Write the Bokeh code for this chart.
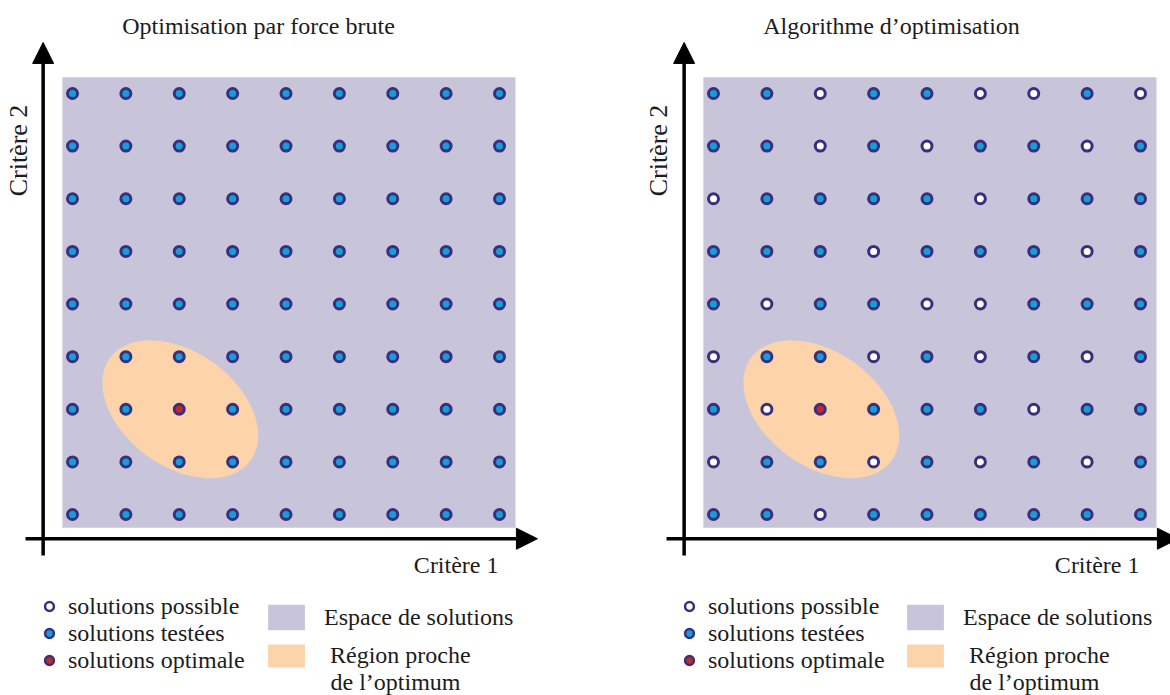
import numpy as np
from bokeh.plotting import figure
from bokeh.models import ColumnDataSource, Label, Arrow, NormalHead, Legend, LegendItem, Range1d
from bokeh.layouts import row
from bokeh.embed import file_html
from bokeh.resources import INLINE

# ---------------- data ----------------
grid_cols = [1, 2, 3, 4, 5, 6, 7, 8, 9]
grid_rows = [9, 8, 7, 6, 5, 4, 3, 2, 1]          # top row first
# P = solution possible (not tested), T = solution testée, O = solution optimale
brute_status = [
    "TTTTTTTTT",
    "TTTTTTTTT",
    "TTTTTTTTT",
    "TTTTTTTTT",
    "TTTTTTTTT",
    "TTTTTTTTT",
    "TTOTTTTTT",
    "TTTTTTTTT",
    "TTTTTTTTT",
]
algo_status = [
    "TTPTTPPTP",
    "TTPTPTTPT",
    "PTTTTPTTT",
    "TTTPTTTPT",
    "TPTTPPTTT",
    "PTTPTPTPT",
    "TPOTTTPTT",
    "PTTPTPTPT",
    "TTPTTTTTT",
]
titles = ["Optimisation par force brute", "Algorithme d\u2019optimisation"]
x_label = "Crit\u00e8re 1"
y_label = "Crit\u00e8re 2"
legend_points = ["solutions possible", "solutions test\u00e9es", "solutions optimale"]
legend_areas = ["Espace de solutions", "R\u00e9gion proche", "de l\u2019optimum"]

# solution space (grid units)
space_x = [0.81, 9.30]
space_y = [0.75, 9.31]
# region near the optimum (ellipse)
region_center = [3.02, 3.0]
region_size = [3.26, 2.17]
region_angle = -0.63
# drawn axes (grid units)
yaxis_x = 0.45
yaxis_span = [0.22, 9.97]
xaxis_y = 0.54
xaxis_span = [0.12, 9.71]

# ---------------- style ----------------
LAV = "#c8c5da"
PEACH = "#fdd4a9"
BLUE = "#12a0d8"
RED = "#c4282b"
RING = "#3b2e7e"
TXT = "#1c1c1c"
FONT = "Liberation Serif"
NAN = float("nan")

W, H = 585, 695
Y_RANGE = (-2.439, 10.767)


def sources(status):
    out = {"P": dict(x=[], y=[]), "T": dict(x=[], y=[]), "O": dict(x=[], y=[])}
    for yv, line in zip(grid_rows, status):
        for xv, s in zip(grid_cols, line):
            out[s]["x"].append(xv)
            out[s]["y"].append(yv)
    return {k: ColumnDataSource(v) for k, v in out.items()}


def panel(status, title, x_range, px):
    p = figure(width=W, height=H, x_range=Range1d(*x_range), y_range=Range1d(*Y_RANGE),
               x_axis_type=None, y_axis_type=None, toolbar_location=None,
               output_backend="svg", min_border=0, outline_line_color=None,
               background_fill_color="white", border_fill_color="white")
    p.grid.visible = False

    r_space = p.quad(left=[space_x[0]], right=[space_x[1]], bottom=[space_y[0]], top=[space_y[1]],
                     fill_color=LAV, line_color=None)
    p.ellipse(x=[region_center[0]], y=[region_center[1]], width=[region_size[0]],
              height=[region_size[1]], angle=[region_angle], fill_color=PEACH, line_color=None)

    src = sources(status)
    kw = dict(size=10, line_color=RING, line_width=3)
    fills = {"P": "white", "T": BLUE, "O": RED}
    for k in ("P", "T", "O"):
        p.scatter("x", "y", source=src[k], fill_color=fills[k], **kw)

    # legend-only proxies (no visible data)
    lk = dict(size=10, line_color=RING, line_width=2.5)
    g_p = p.scatter(x=[NAN], y=[NAN], fill_color="white", **lk)
    g_t = p.scatter(x=[NAN], y=[NAN], fill_color=BLUE, **lk)
    g_o = p.scatter(x=[NAN], y=[NAN], fill_color=RED, **lk)
    g_region = p.quad(left=[NAN], right=[NAN], bottom=[NAN], top=[NAN], fill_color=PEACH, line_color=None)

    head = lambda: NormalHead(size=21, fill_color="black", line_color="black", line_width=1)
    p.add_layout(Arrow(x_start=yaxis_x, y_start=yaxis_span[0], x_end=yaxis_x, y_end=yaxis_span[1],
                       end=head(), line_width=3.5, line_color="black"))
    p.add_layout(Arrow(x_start=xaxis_span[0], y_start=xaxis_y, x_end=xaxis_span[1], y_end=xaxis_y,
                       end=head(), line_width=3.5, line_color="black"))

    tkw = dict(text_font=FONT, text_color=TXT, x_units="screen", y_units="screen",
               text_baseline="middle")
    p.add_layout(Label(x=px["title"], y=670, text=title, text_align="center",
                       text_font_size="24px", **tkw))
    p.add_layout(Label(x=px["xlab"], y=131, text=x_label, text_align="right",
                       text_font_size="24px", **tkw))
    p.add_layout(Label(x=px["ylab"], y=545, text=y_label, text_align="center", angle=np.pi / 2,
                       text_font_size="26px", **tkw))
    p.add_layout(Label(x=px["b"] + 67, y=14, text=legend_areas[2], text_align="left",
                       text_font_size="24px", **tkw))

    lkw = dict(padding=0, margin=0, border_line_color=None, background_fill_alpha=0,
               label_text_font=FONT, label_text_font_size="24px", label_text_color=TXT)
    legA = Legend(items=[LegendItem(label=legend_points[0], renderers=[g_p]),
                         LegendItem(label=legend_points[1], renderers=[g_t]),
                         LegendItem(label=legend_points[2], renderers=[g_o])],
                  location=(px["a"], 21.5), glyph_width=22, glyph_height=22, label_standoff=8,
                  spacing=-2, **lkw)
    legB1 = Legend(items=[LegendItem(label=legend_areas[0], renderers=[r_space])],
                   location=(px["b"], 62), glyph_width=46, glyph_height=32,
                   label_standoff=15, spacing=0, **lkw)
    legB2 = Legend(items=[LegendItem(label=legend_areas[1], renderers=[g_region])],
                   location=(px["b"], 25), glyph_width=46, glyph_height=29,
                   label_standoff=21, spacing=0, **lkw)
    for lg in (legA, legB1, legB2):
        p.add_layout(lg)
    return p


left = panel(brute_status, titles[0], (-0.349, 10.611),
             dict(title=258, a=38, b=263, xlab=498, ylab=18))
right = panel(algo_status, titles[1], (-1.398, 9.562),
              dict(title=306, a=93, b=317, xlab=554, ylab=73))

layout = row(left, right)
open("out.html", "w").write(file_html(layout, INLINE))
